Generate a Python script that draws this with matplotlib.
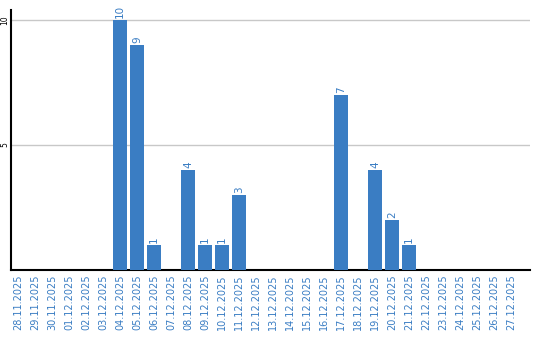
import matplotlib
matplotlib.use("Agg")
import matplotlib.pyplot as plt
import numpy as np

# ── Data ──────────────────────────────────────────────────────────────────────
dates = [
    "28.11.2025", "29.11.2025", "30.11.2025", "01.12.2025", "02.12.2025",
    "03.12.2025", "04.12.2025", "05.12.2025", "06.12.2025", "07.12.2025",
    "08.12.2025", "09.12.2025", "10.12.2025", "11.12.2025", "12.12.2025",
    "13.12.2025", "14.12.2025", "15.12.2025", "16.12.2025", "17.12.2025",
    "18.12.2025", "19.12.2025", "20.12.2025", "21.12.2025", "22.12.2025",
    "23.12.2025", "24.12.2025", "25.12.2025", "26.12.2025", "27.12.2025",
]
counts = [0, 0, 0, 0, 0, 0, 10, 9, 1, 0, 4, 1, 1, 3, 0,
          0, 0, 0, 0, 7, 0, 4, 2, 1, 0, 0, 0, 0, 0, 0]
y_ticks = [5, 10]

BLUE = "#3a7dc3"

fig = plt.figure(figsize=(5.4, 3.4), dpi=100)
ax = fig.add_axes([10.5 / 540, 70 / 340, 519.5 / 540, 260 / 340])

x = np.arange(len(dates))
ax.bar(x, counts, width=0.82, color=BLUE, zorder=3)

for xi, v in zip(x, counts):
    if v > 0:
        ax.text(xi, v + 0.08, str(v), rotation=90, ha="center", va="bottom",
                color=BLUE, fontsize=7.5)

ax.set_xlim(-0.45, 30.11)
ax.set_ylim(0, 10.4)
ax.set_xticks(x)
ax.set_xticklabels(dates, rotation=90, color=BLUE, fontsize=7)
ax.set_yticks(y_ticks)
ax.set_yticklabels([str(t) for t in y_ticks], rotation=90, va="center",
                   fontsize=5.5)
ax.tick_params(axis="x", length=0, pad=3)
ax.tick_params(axis="y", length=0, pad=1)
ax.grid(axis="y", color="#c8c8c8", linewidth=1, zorder=0)
ax.spines[["top", "right"]].set_visible(False)
ax.spines["left"].set_linewidth(1.5)
ax.spines["bottom"].set_linewidth(1.5)

fig.savefig("out.png", dpi=100)
